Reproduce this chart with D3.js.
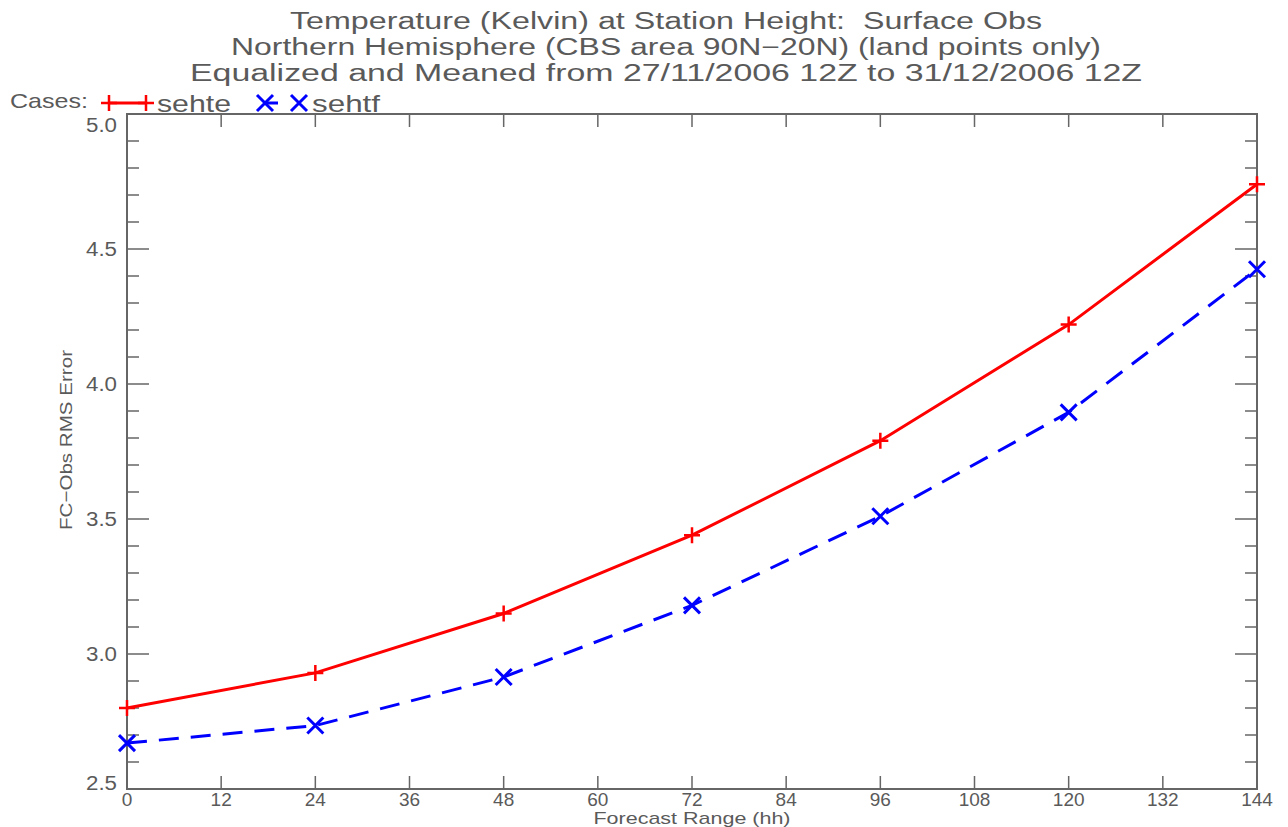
<!DOCTYPE html>
<html><head><meta charset="utf-8">
<script src="https://cdn.jsdelivr.net/npm/d3@7"></script>
<style>body{margin:0;background:#fff}text{font-family:"Liberation Sans Narrow","Liberation Sans",Arial,sans-serif;fill:#5a5a5a;white-space:pre}</style>
</head><body><svg id="c" width="1288" height="827"></svg>
<script>
const hours = [0, 24, 48, 72, 96, 120, 144];
const sehte = [2.80, 2.93, 3.15, 3.44, 3.79, 4.22, 4.74];
const sehtf = [2.67, 2.735, 2.915, 3.18, 3.51, 3.895, 4.425];
const xTicks = [0,12,24,36,48,60,72,84,96,108,120,132,144];
const yMajor = [2.5,3.0,3.5,4.0,4.5,5.0];
const yMinor = d3.range(25,51).map(d=>d/10);
const titles = ["Temperature (Kelvin) at Station Height:  Surface Obs",
  "Northern Hemisphere (CBS area 90N\u221220N) (land points only)",
  "Equalized and Meaned from 27/11/2006 12Z to 31/12/2006 12Z"];
const titleLen = [752, 870, 952];
const caseNames = ["sehte","sehtf"];

const svg = d3.select("#c");
const L=127,R=1257,T=114,B=789;
const x = d3.scaleLinear().domain([0,144]).range([L,R]);
const y = d3.scaleLinear().domain([2.5,5.0]).range([B,T]);
const axisCol="#666";

// titles
titles.forEach((t,i)=>{
  svg.append("text").attr("x",666).attr("y",29+i*26).attr("text-anchor","middle")
    .attr("font-size",23).attr("textLength",titleLen[i]).attr("lengthAdjust","spacingAndGlyphs").text(t);
});

// frame
svg.append("rect").attr("x",L).attr("y",T).attr("width",R-L).attr("height",B-T)
  .attr("fill","none").attr("stroke",axisCol).attr("stroke-width",2);

// y ticks (left & right)
yMinor.forEach(v=>{
  const major = Math.abs(v*2-Math.round(v*2))<1e-6;
  const len = major?22:12;
  svg.append("line").attr("x1",L).attr("x2",L+len).attr("y1",y(v)).attr("y2",y(v)).attr("stroke",axisCol).attr("stroke-width",1.5);
  svg.append("line").attr("x1",R).attr("x2",R-len).attr("y1",y(v)).attr("y2",y(v)).attr("stroke",axisCol).attr("stroke-width",1.5);
});
yMajor.forEach(v=>{
  const off = v===5.0 ? 18 : (v===2.5 ? 1 : 7);
  svg.append("text").attr("x",117).attr("y",y(v)+off).attr("text-anchor","end").attr("font-size",20)
    .attr("textLength",31).attr("lengthAdjust","spacingAndGlyphs").text(d3.format(".1f")(v));
});
// x ticks (bottom & top)
xTicks.forEach(v=>{
  svg.append("line").attr("x1",x(v)).attr("x2",x(v)).attr("y1",B).attr("y2",B-13).attr("stroke",axisCol).attr("stroke-width",1.5);
  svg.append("line").attr("x1",x(v)).attr("x2",x(v)).attr("y1",T).attr("y2",T+13).attr("stroke",axisCol).attr("stroke-width",1.5);
  svg.append("text").attr("x",x(v)).attr("y",806).attr("text-anchor","middle").attr("font-size",19).text(v);
});
svg.append("text").attr("x",692).attr("y",824).attr("text-anchor","middle").attr("font-size",17)
  .attr("textLength",197).attr("lengthAdjust","spacingAndGlyphs").text("Forecast Range (hh)");
svg.append("text").attr("transform","translate(72,440) rotate(-90)").attr("text-anchor","middle").attr("font-size",17)
  .attr("textLength",180).attr("lengthAdjust","spacingAndGlyphs").text("FC\u2212Obs RMS Error");

// lines
const line = d3.line().x((d,i)=>x(hours[i])).y(d=>y(d));
svg.append("path").datum(sehte).attr("d",line).attr("fill","none").attr("stroke","#ff0000").attr("stroke-width",3);
svg.append("path").datum(sehtf).attr("d",line).attr("fill","none").attr("stroke","#0000ff").attr("stroke-width",3).attr("stroke-dasharray","20,12");

function plus(g,cx,cy,col){const s=8;
  g.append("path").attr("d",`M${cx-s},${cy}H${cx+s}M${cx},${cy-s}V${cy+s}`).attr("stroke",col).attr("stroke-width",2.5).attr("fill","none");}
function cross(g,cx,cy,col){const s=8;
  g.append("path").attr("d",`M${cx-s},${cy-s}L${cx+s},${cy+s}M${cx-s},${cy+s}L${cx+s},${cy-s}`).attr("stroke",col).attr("stroke-width",3).attr("fill","none");}
sehte.forEach((v,i)=>plus(svg,x(hours[i]),y(v),"#ff0000"));
sehtf.forEach((v,i)=>cross(svg,x(hours[i]),y(v),"#0000ff"));

// legend
svg.append("text").attr("x",10).attr("y",108).attr("font-size",21).attr("textLength",78).attr("lengthAdjust","spacingAndGlyphs").text("Cases:");
svg.append("line").attr("x1",109).attr("x2",146).attr("y1",103).attr("y2",103).attr("stroke","#ff0000").attr("stroke-width",3);
plus(svg,109,103,"#ff0000"); plus(svg,146,103,"#ff0000");
svg.append("text").attr("x",157).attr("y",112).attr("font-size",24).attr("textLength",74).attr("lengthAdjust","spacingAndGlyphs").text(caseNames[0]);
svg.append("line").attr("x1",265).attr("x2",278).attr("y1",103).attr("y2",103).attr("stroke","#0000ff").attr("stroke-width",3);
cross(svg,265,103,"#0000ff"); cross(svg,299,103,"#0000ff");
svg.append("text").attr("x",312).attr("y",112).attr("font-size",24).attr("textLength",68).attr("lengthAdjust","spacingAndGlyphs").text(caseNames[1]);
</script></body></html>
